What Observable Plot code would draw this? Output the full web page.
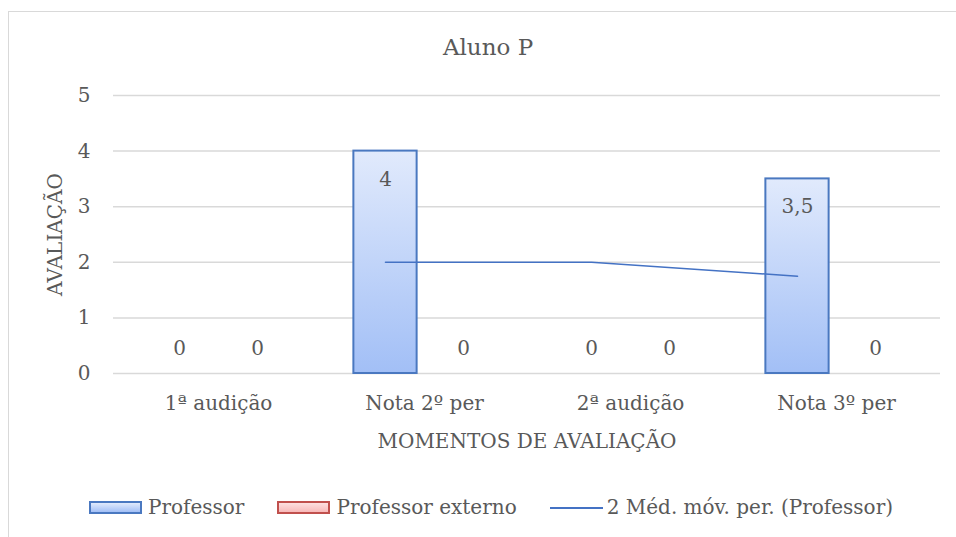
<!DOCTYPE html>
<html>
<head>
<meta charset="utf-8">
<script src="https://cdn.jsdelivr.net/npm/d3@7"></script>
<script src="https://cdn.jsdelivr.net/npm/@observablehq/plot@0.6"></script>
<style>
  html, body { margin: 0; padding: 0; background: #fff; }
  #wrap { position: relative; width: 956px; height: 537px; overflow: hidden; font-family: 'DejaVu Serif', serif; color: #595959; }
  #border { position: absolute; left: 8px; top: 11px; width: 1000px; height: 600px; border: 1.5px solid #d9d9d9; box-sizing: border-box; }
  #title { position: absolute; left: 10px; width: 956px; top: 34px; line-height: 27px; text-align: center; font-family: 'DejaVu Serif', serif; font-size: 23px; color: #595959; }
  #chart { position: absolute; left: 0; top: 0; }
  #legend { position: absolute; left: 89px; top: 494px; height: 27px; display: flex; align-items: center; font-family: 'DejaVu Serif', serif; font-size: 20px; line-height: 27px; color: #595959; white-space: nowrap; }
  .item { display: flex; align-items: center; margin-right: 33px; }
  .sw { width: 53px; height: 13px; margin-right: 6px; box-sizing: border-box; }
  .ln { width: 53px; height: 0; border-top: 2px solid #4472c4; margin-right: 4px; }
</style>
</head>
<body>
<div id="wrap">
  <div id="border"></div>
  <div id="title">Aluno P</div>
  <div id="chart"></div>
  <div id="legend"></div>
</div>
<script>
const categories = ["1ª audição", "Nota 2º per", "2ª audição", "Nota 3º per"];
const seriesNames = ["Professor", "Professor externo", "2 Méd. móv. per. (Professor)"];
const professor = [0, 4, 0, 3.5];
const professorExterno = [0, 0, 0, 0];
const movAvgCategories = ["Nota 2º per", "2ª audição", "Nota 3º per"];
const movAvgValues = [2, 2, 1.75];
const yTicks = [0, 1, 2, 3, 4, 5];
const yLabels = ["0", "1", "2", "3", "4", "5"];

const profData = categories.map((c, i) => ({cat: c, v: professor[i]}));
const extData = categories.map((c, i) => ({cat: c, v: professorExterno[i]}));
const maData = movAvgCategories.map((c, i) => ({cat: c, v: movAvgValues[i]}));
const fmt = v => String(v).replace(".", ",");
const FONT = "'DejaVu Serif', serif";

const gradDefs = () => {
  const ns = "http://www.w3.org/2000/svg";
  const g = document.createElementNS(ns, "g");
  g.innerHTML = `<defs>
    <linearGradient id="gBlue" x1="0" y1="0" x2="0" y2="1">
      <stop offset="0" stop-color="#e1eafc"/><stop offset="1" stop-color="#a2bff6"/>
    </linearGradient>
    <filter id="sh" x="-10%" y="-10%" width="130%" height="130%">
      <feDropShadow dx="1.5" dy="1.5" stdDeviation="1.2" flood-color="#000" flood-opacity="0.25"/>
    </filter></defs>`;
  return g;
};

const W = 956, H = 537;
const left = 113, right = 940, base = 373, top5 = 95;
const bandW = (right - left) / categories.length;
const barW = 64;
const inset = (bandW - barW) / 2;
const off = 39;

const chart = Plot.plot({
  width: W,
  height: H,
  marginLeft: left,
  marginRight: W - right,
  marginTop: top5,
  marginBottom: H - base,
  style: {fontFamily: FONT, fontSize: "20px", color: "#595959", background: "transparent"},
  x: {domain: categories, padding: 0},
  y: {domain: [0, 5]},
  marks: [
    gradDefs,
    Plot.ruleY(yTicks, {stroke: "#d9d9d9", strokeWidth: 1.5}),
    Plot.axisY(yTicks, {tickSize: 0, tickPadding: 23, tickFormat: (d, i) => yLabels[i], fontSize: 20, fill: "#595959",
      label: "AVALIAÇÃO", labelAnchor: "center", labelOffset: 66, labelArrow: "none"}),
    Plot.axisX({tickSize: 0, tickPadding: 22, fontSize: 20, fill: "#595959",
      label: "MOMENTOS DE AVALIAÇÃO", labelAnchor: "center", labelOffset: 74, labelArrow: "none"}),
    Plot.barY(profData.filter(d => d.v > 0), {x: "cat", y: "v", dx: -off, insetLeft: inset, insetRight: inset,
      fill: "url(#gBlue)", stroke: "#4a78c0", strokeWidth: 2, style: "filter:url(#sh)"}),
    Plot.line(maData, {x: "cat", y: "v", dx: -off, stroke: "#4472c4", strokeWidth: 1.6}),
    Plot.text(profData.filter(d => d.v > 0), {x: "cat", y: "v", dx: -off, dy: 28, text: d => fmt(d.v), fontSize: 20, fill: "#595959"}),
    Plot.text(profData.filter(d => d.v === 0), {x: "cat", y: "v", dx: -off, dy: -25, text: d => fmt(d.v), fontSize: 20, fill: "#595959"}),
    Plot.text(extData.filter(d => d.v === 0), {x: "cat", y: "v", dx: off, dy: -25, text: d => fmt(d.v), fontSize: 20, fill: "#595959"})
  ]
});
document.getElementById("chart").appendChild(chart);

const legend = document.getElementById("legend");
legend.innerHTML = `
  <div class="item"><div class="sw" style="background:linear-gradient(#e1eafc,#a2bff6);border:2px solid #4a78c0"></div><span>${seriesNames[0]}</span></div>
  <div class="item"><div class="sw" style="background:linear-gradient(#fde0e0,#f8b9b9);border:2px solid #c0504d"></div><span>${seriesNames[1]}</span></div>
  <div class="item"><div class="ln"></div><span>${seriesNames[2]}</span></div>`;
</script>
</body>
</html>
